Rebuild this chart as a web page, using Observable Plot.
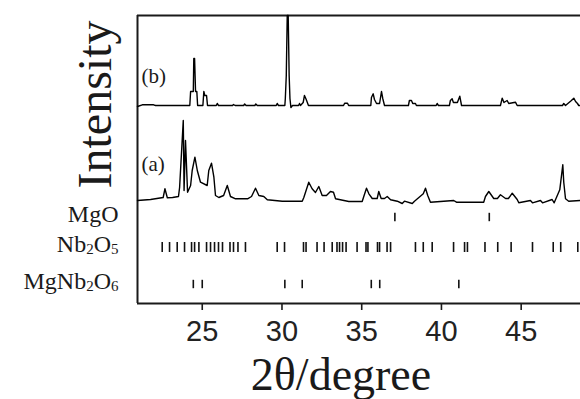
<!DOCTYPE html>
<html>
<head>
<meta charset="utf-8">
<script src="https://cdn.jsdelivr.net/npm/d3@7"></script>
<script src="https://cdn.jsdelivr.net/npm/@observablehq/plot@0.6"></script>
<style>
  html, body { margin: 0; padding: 0; background: #fff; }
  #chart { width: 580px; height: 399px; overflow: hidden; }
</style>
</head>
<body>
<div id="chart"></div>
<script>
// ---- data ----
// trace (a): 2θ and relative intensity (arbitrary units)
const twoThetaA = [20.94,21.76,22.55,22.66,22.81,23.14,23.51,23.58,23.81,23.86,23.95,24.08,24.27,24.37,24.54,24.69,24.89,25.31,25.41,25.58,25.73,25.83,26.04,26.34,26.57,26.77,27.09,27.84,28.09,28.34,28.55,28.86,29.08,30.02,31.27,31.37,31.68,31.89,32.10,32.31,32.52,32.79,33.04,33.23,33.36,34.19,35.03,35.13,35.30,35.45,35.66,35.97,36.07,36.22,36.43,36.60,36.81,37.23,37.54,37.68,38.17,38.31,38.86,39.00,39.14,39.31,40.77,40.94,42.65,42.76,42.97,43.28,43.51,43.70,44.02,44.20,44.44,44.75,44.85,45.58,45.71,46.21,46.34,46.94,47.07,47.42,47.61,47.67,47.78,47.98,48.72];
const intensityA = [1,2,4,12.7,3.7,4,5,14,81,11,61,9.3,16,31,44.3,31,19.3,16,31,38.3,24.3,6,4,6,16,5,2.7,2.7,5,13.3,6,5,1.7,0.3,0.3,4,19.3,12.7,9,15,6,6,10,9.3,2.7,0,0,5,13.3,7.7,3,3,10,3,3,5,1.7,0.3,-2,0.3,-2,0.3,7.7,13.3,6,-0.7,1,-0.7,-0.7,5,10,3,3,6.7,3,3,8.3,2,-1.3,1,-1.3,1,-1.3,2,-1.3,11.7,36.7,19.3,2.7,0.3,1];

// trace (b)
const twoThetaB = [20.94,21.24,21.95,22.07,24.22,24.27,24.44,24.47,24.52,24.58,24.66,24.71,25.04,25.10,25.16,25.27,25.33,25.88,25.94,26.02,26.90,26.96,27.06,27.60,27.66,27.75,28.30,28.36,28.45,29.64,29.70,29.78,30.18,30.21,30.27,30.33,30.39,30.45,30.50,30.56,30.66,31.04,31.10,31.16,31.33,31.41,31.52,31.66,33.86,33.93,34.11,34.18,35.57,35.61,35.72,35.80,35.93,36.12,36.24,36.32,36.43,37.93,37.99,38.12,38.20,38.37,38.43,39.67,39.73,39.81,40.50,40.56,40.67,40.75,41.00,41.15,41.26,43.70,43.81,43.92,44.12,44.22,44.64,44.75,47.59,47.67,47.78,48.15,48.30,48.41,48.53,48.61,48.72];
const intensityB = [-1,0.7,0.7,0,0,14,14,47,47,14,14,0,0,14,10,10,0,0,2,0,0,1,0,0,1.5,0,0,1.5,0,0,2,0,0,7,30,90,90,30,7,-2,0,0,2,0,3,10,6,0,0,2.3,2.3,0,0,8,11.7,6,2,2,14,7,0,0,5,5,2,2,0,0,2,0,0,5,6.7,3,3,9.3,0,0,7.3,3,5,2,3.3,0,0,2,0,5,7.3,4,2,0,0];

// reference pattern positions (2θ)
const mgoPeaks = [37.08, 43.00];
const nb2o5Peaks = [22.49,22.95,23.43,23.89,24.33,24.52,24.79,25.27,25.52,25.77,26.02,26.27,26.74,26.96,27.24,27.71,29.70,30.16,31.35,31.51,32.20,32.64,33.15,33.45,33.61,33.80,34.02,34.71,35.27,35.39,35.99,36.12,36.59,36.81,38.37,38.86,39.42,40.76,41.45,41.63,42.73,43.53,44.37,45.71,47.01,47.48,48.55];
const mgnb2o6Peaks = [24.44,25.00,30.18,31.27,35.60,36.13,41.09];

const phaseNames = ["MgO", "Nb2O5", "MgNb2O6"];
const traceNames = ["(a)", "(b)"];
const xTicks = [25, 30, 35, 40, 45];
const xLabel = "2θ/degree";
const yLabel = "Intensity";

// ---- layout constants (stacking) ----
const X_MIN = 20.94, X_MAX = 48.72;
const Y_MIN = 0, Y_MAX = 288;
const offsetA = 102, offsetB = 198;
const rowY = [86, 56, 19];      // MgO, Nb2O5, MgNb2O6 row centres
const rowHalf = [4.2, 5, 4.2];

const traceA = twoThetaA.map((t, i) => ({t, v: intensityA[i] + offsetA}));
const traceB = twoThetaB.map((t, i) => ({t, v: intensityB[i] + offsetB}));
const phaseRows = [mgoPeaks, nb2o5Peaks, mgnb2o6Peaks];
const sticks = phaseRows.flatMap((arr, r) => arr.map(t => ({t, r})));
const phaseLabels = phaseNames.map((name, r) => ({name, r}));

const serif = "Liberation Serif, Times New Roman, serif";
const sans = "Liberation Sans, Arial, sans-serif";
const ink = "#1a1a1a";

const chart = Plot.plot({
  width: 580,
  height: 399,
  marginLeft: 137,
  marginRight: 0,
  marginTop: 15,
  marginBottom: 96,
  style: {background: "#fff", color: ink, overflow: "visible"},
  x: {domain: [X_MIN, X_MAX]},
  y: {domain: [Y_MIN, Y_MAX], axis: null},
  marks: [
    // frame sides (left, top, bottom)
    Plot.ruleX([X_MIN], {stroke: ink, strokeWidth: 2}),
    Plot.ruleY([Y_MAX], {stroke: ink, strokeWidth: 2}),
    Plot.ruleY([Y_MIN], {stroke: ink, strokeWidth: 2}),
    // traces
    Plot.line(traceB, {x: "t", y: "v", stroke: "#000", strokeWidth: 1.4}),
    Plot.line(traceA, {x: "t", y: "v", stroke: "#000", strokeWidth: 1.4}),
    // trace labels
    Plot.text([{name: traceNames[1], y: offsetB + 29}, {name: traceNames[0], y: offsetA + 37}], {
      x: () => X_MIN, y: "y", text: "name", textAnchor: "start", dx: 4,
      fontSize: 21, fontFamily: serif, fill: ink
    }),
    // reference sticks
    Plot.ruleX(sticks, {
      x: "t", y1: d => rowY[d.r] - rowHalf[d.r], y2: d => rowY[d.r] + rowHalf[d.r],
      stroke: "#111", strokeWidth: 1.6
    }),
    // phase labels
    Plot.text(phaseLabels, {
      x: () => X_MIN, y: d => rowY[d.r], text: "name", textAnchor: "end",
      dx: -19, dy: -3, fontSize: 24, fontFamily: serif, fill: ink
    }),
    // x axis
    Plot.axisX(xTicks, {
      tickSize: 7, tickPadding: 10, fontSize: 29, fontFamily: sans,
      stroke: ink, strokeWidth: 1.6, fill: "#222", label: null
    }),
    // axis titles
    Plot.text([xLabel], {
      frameAnchor: "bottom", textAnchor: "middle", lineAnchor: "middle",
      dx: -18, dy: 72, fontSize: 46, fontFamily: serif, fill: ink
    }),
    Plot.text([yLabel], {
      frameAnchor: "left", textAnchor: "middle", lineAnchor: "middle", rotate: -90,
      dx: -42, dy: -55, fontSize: 48, fontFamily: serif, fill: ink
    })
  ]
});

// subscripts for chemical formulas
chart.querySelectorAll("text").forEach(el => {
  const s = el.textContent;
  if (s === "Nb2O5" || s === "MgNb2O6") {
    el.textContent = "";
    const parts = s.match(/[A-Za-z]+|\d+/g);
    parts.forEach(p => {
      const ts = document.createElementNS("http://www.w3.org/2000/svg", "tspan");
      ts.textContent = p;
      if (/\d/.test(p)) {
        ts.setAttribute("font-size", "15");
        ts.setAttribute("dy", "2");
      } else {
        ts.setAttribute("dy", el.lastChild && /\d/.test(el.lastChild.textContent) ? "-2" : "0");
      }
      el.appendChild(ts);
    });
  }
});

document.getElementById("chart").appendChild(chart);
</script>
</body>
</html>
